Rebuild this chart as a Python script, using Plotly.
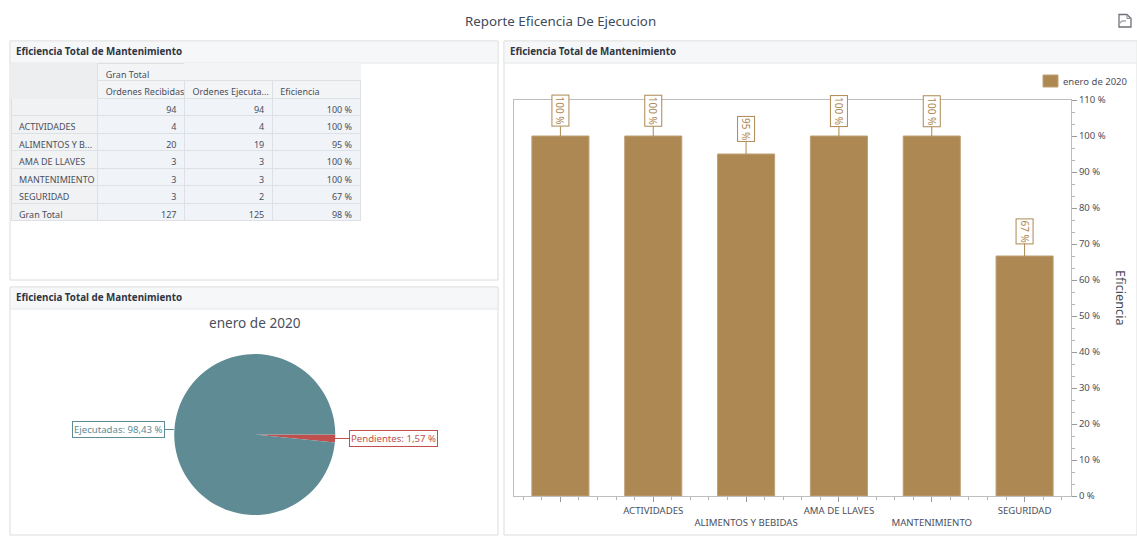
import plotly.graph_objects as go

W, H = 1137, 536
FONT = "Noto Sans"
TXT = "#4a4f5c"

# ---- data ----
areas = ["", "ACTIVIDADES", "ALIMENTOS Y BEBIDAS", "AMA DE LLAVES", "MANTENIMIENTO", "SEGURIDAD"]
table_areas = ["", "ACTIVIDADES", "ALIMENTOS Y B...", "AMA DE LLAVES", "MANTENIMIENTO", "SEGURIDAD", "Gran Total"]
recibidas = [94, 4, 20, 3, 3, 3, 127]
ejecutadas = [94, 4, 19, 3, 3, 2, 125]
eficiencia_tabla = ["100 %", "100 %", "95 %", "100 %", "100 %", "67 %", "98 %"]
eficiencia = [100, 100, 95, 100, 100, 66.67]
eficiencia_labels = ["100 %", "100 %", "95 %", "100 %", "100 %", "67 %"]
pie_labels = ["Pendientes", "Ejecutadas"]
pie_values = [1.57, 98.43]
periodo = "enero de 2020"
panel_title = "Eficiencia Total de Mantenimiento"
report_title = "Reporte Eficencia De Ejecucion"
axis_title = "Eficiencia"

BAR = "#ad8852"
TEAL = "#5f8b95"
RED = "#c0504d"


def px(x):
    return x / W


def py(y):
    return 1 - y / H


def nb(s):
    return s.replace(" ", "\u00a0")


fig = go.Figure()

# ---- pivot table ----
HDR = "#f3f4f6"
CORNER = "#eceef0"
CELL = "#f0f3f8"
FIRST = "#f1f2f4"
LINE = "#dde1e6"
fig.add_trace(go.Table(
    domain=dict(x=[px(11), px(361)], y=[py(221), py(63)]),
    columnwidth=[87, 87, 88, 88],
    header=dict(
        values=[["", ""], [nb("Gran Total"), nb("Ordenes Recibidas")], ["", nb("Ordenes Ejecuta...")], ["", "Eficiencia"]],
        height=17.6,
        align="left",
        fill_color=[[CORNER, CORNER], [HDR, HDR], [HDR, HDR], [HDR, HDR]],
        line=dict(color=[[CORNER, CORNER], [LINE, LINE], [HDR, LINE], [HDR, LINE]], width=1),
        font=dict(family=FONT, size=9, color=TXT),
    ),
    cells=dict(
        values=[[nb(a) for a in table_areas], recibidas, ejecutadas, [nb(e) for e in eficiencia_tabla]],
        height=17.5,
        align=["left", "right", "right", "right"],
        fill_color=[[FIRST] * 7, [CELL] * 7, [CELL] * 7, [CELL] * 7],
        line=dict(color=LINE, width=1),
        font=dict(family=FONT, size=9, color=TXT),
    ),
))

# ---- pie ----
fig.add_trace(go.Pie(
    labels=pie_labels,
    values=pie_values,
    sort=False,
    direction="clockwise",
    rotation=90,
    textinfo="none",
    marker=dict(colors=[RED, TEAL], line=dict(width=0)),
    domain=dict(x=[px(174), px(335.5)], y=[py(515), py(354)]),
    showlegend=False,
))

# ---- bars ----
x_idx = list(range(len(areas)))
fig.add_trace(go.Bar(
    x=x_idx,
    y=eficiencia,
    name=periodo,
    width=0.615,
    marker=dict(color=BAR, line=dict(color="#bfa177", width=1)),
    showlegend=False,
))

ticktext = [a if i % 2 else "<br>" + a for i, a in enumerate(areas)]

fig.update_layout(
    width=W, height=H,
    autosize=False,
    margin=dict(l=0, r=0, t=0, b=0, autoexpand=False),
    paper_bgcolor="white",
    plot_bgcolor="white",
    font=dict(family=FONT, size=10, color=TXT),
    bargap=0.385,
    xaxis=dict(
        domain=[px(514), px(1071)],
        range=[-0.5, 5.5],
        automargin=False,
        tickmode="array",
        tickvals=x_idx,
        ticktext=ticktext,
        ticks="outside", ticklen=5, tickcolor="#9a9a9a",
        tickfont=dict(family=FONT, size=9.6, color=TXT),
        minor=dict(dtick=0.2, tick0=0, ticks="outside", ticklen=3, tickcolor="#b5b5b5"),
        showgrid=False, zeroline=False,
        showline=True, linecolor="#bdbdbd", mirror=True,
    ),
    yaxis=dict(
        domain=[py(496), py(100)],
        range=[0, 110],
        automargin=False,
        side="right",
        tickmode="linear", tick0=0, dtick=10,
        ticksuffix=" %",
        ticks="outside", ticklen=5, tickcolor="#9a9a9a",
        tickfont=dict(family=FONT, size=9.5, color=TXT),
        minor=dict(dtick=10 / 3, tick0=0, ticks="outside", ticklen=3, tickcolor="#b5b5b5"),
        showgrid=False, zeroline=False,
        showline=True, linecolor="#bdbdbd", mirror=True,
    ),
)

# ---- panels ----
panels = [(10, 41, 498, 280, 63), (10, 287, 498, 535, 309), (504, 41, 1137, 535, 63)]
for x0, y0, x1, y1, yh in panels:
    fig.add_shape(type="rect", xref="paper", yref="paper", x0=px(x0), x1=px(x1), y0=py(y0), y1=py(y1),
                  line=dict(color="#dcdcdc", width=1), fillcolor="white", layer="below")
    fig.add_shape(type="rect", xref="paper", yref="paper", x0=px(x0), x1=px(x1), y0=py(y0), y1=py(yh),
                  line=dict(color="#e6e6e6", width=1), fillcolor="#f6f7f8", layer="below")
    fig.add_annotation(xref="paper", yref="paper", x=px(x0 + 4), y=py((y0 + yh) / 2 - 0.5),
                       xanchor="left", yanchor="middle", showarrow=False, text="<b>%s</b>" % panel_title,
                       font=dict(family=FONT, size=9.8, color="#2f3542"))

# ---- titles ----
fig.add_annotation(xref="paper", yref="paper", x=px(560), y=py(21), xanchor="center", yanchor="middle",
                   showarrow=False, text=report_title, font=dict(family=FONT, size=13.3, color="#3f4a5a"))
fig.add_annotation(xref="paper", yref="paper", x=px(255), y=py(322), xanchor="center", yanchor="middle",
                   showarrow=False, text=periodo, font=dict(family=FONT, size=13.6, color=TXT))
fig.add_annotation(xref="paper", yref="paper", x=px(1121), y=py(298), xanchor="center", yanchor="middle",
                   showarrow=False, text=axis_title, textangle=90, font=dict(family=FONT, size=12.7, color=TXT))

# ---- legend key ----
fig.add_shape(type="rect", xref="paper", yref="paper", x0=px(1043), x1=px(1058), y0=py(75), y1=py(87),
              line=dict(color="#bfa177", width=1), fillcolor=BAR)
fig.add_annotation(xref="paper", yref="paper", x=px(1061), y=py(81), xanchor="left", yanchor="middle",
                   showarrow=False, text=periodo, font=dict(family=FONT, size=9.5, color=TXT))

# ---- bar value labels ----
for i, (v, lab) in enumerate(zip(eficiencia, eficiencia_labels)):
    fig.add_annotation(x=i, y=v, xref="x", yref="y", text=lab, textangle=90,
                       showarrow=True, arrowhead=0, arrowwidth=1, arrowcolor=BAR,
                       ax=0, ay=-25, bordercolor=BAR, borderwidth=1, borderpad=1, bgcolor="white",
                       font=dict(family=FONT, size=10, color=BAR))

# ---- pie labels ----
fmt = lambda l, v: f"{l}: {v:.2f} %".replace(".", ",")
fig.add_annotation(xref="paper", yref="paper", x=px(174), y=py(429.5), axref="pixel", ayref="pixel",
                   ax=-56, ay=0, text=fmt(pie_labels[1], pie_values[1]), showarrow=True, arrowhead=0,
                   arrowwidth=1, arrowcolor=TEAL, bordercolor=TEAL, borderwidth=1, borderpad=1,
                   bgcolor="white", font=dict(family=FONT, size=9.6, color=TEAL))
fig.add_annotation(xref="paper", yref="paper", x=px(335), y=py(438.5), axref="pixel", ayref="pixel",
                   ax=58, ay=0, text=fmt(pie_labels[0], pie_values[0]), showarrow=True, arrowhead=0,
                   arrowwidth=1, arrowcolor=RED, bordercolor=RED, borderwidth=1, borderpad=1,
                   bgcolor="white", font=dict(family=FONT, size=9.6, color=RED))

# ---- export icon ----
def P(pts):
    return "M" + " L".join(f"{px(a):.5f},{py(b):.5f}" for a, b in pts)

fig.add_shape(type="path", xref="paper", yref="paper",
              path=P([(1119, 14.5), (1127, 14.5), (1131, 18.5), (1131, 27), (1119, 27)]) + " Z",
              line=dict(color="#6e7078", width=1.3), fillcolor="white")
fig.add_shape(type="path", xref="paper", yref="paper",
              path=P([(1127, 14.5), (1127, 18.5), (1131, 18.5)]),
              line=dict(color="#8a8c93", width=1))
fig.add_shape(type="path", xref="paper", yref="paper",
              path=P([(1118, 25), (1122, 21), (1126, 21)]),
              line=dict(color="#a6a8ae", width=1.3))

fig.write_html("out.html", post_script="document.body.style.margin='0';",
               config=dict(displayModeBar=False))
